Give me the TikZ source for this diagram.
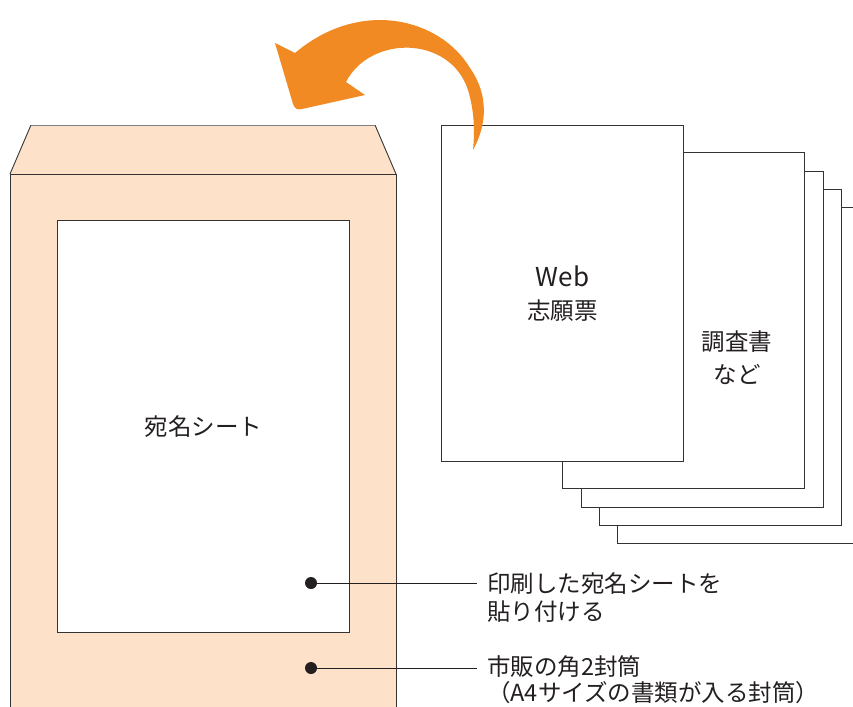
\documentclass[tikz,border=0pt]{standalone}
\usepackage{fontspec}
\setmainfont{Noto Sans CJK JP}
\definecolor{env}{HTML}{FDE1C9}
\definecolor{orng}{HTML}{F28A24}
\definecolor{ln}{HTML}{333333}
\definecolor{txt}{HTML}{231F20}
\begin{document}
\begin{tikzpicture}[x=1pt,y=-1pt,
  paper/.style={draw=ln, line width=0.9pt, fill=white, inner sep=0pt,
    minimum width=242pt, minimum height=336pt, anchor=north west},
  lbl/.style={font=\fontsize{23.5}{28}\selectfont, text=txt, inner sep=0pt},
  dotnode/.style={circle, fill=txt, minimum size=12pt, inner sep=0pt},
  leader/.style={draw=txt, line width=0.8pt, shorten >=10pt}]
\useasboundingbox (0,0) rectangle (853,706);
\clip (0,0) rectangle (853,706);
% envelope
\fill[env] (31,125) -- (375,125) -- (396,174) -- (10,174) -- cycle;
\draw[ln, line width=0.9pt] (10,174) -- (31,125);
\draw[ln, line width=0.9pt] (375,125) -- (396,174);
\draw[gray, line width=0.9pt] (31,125) -- (375,125);
\draw[ln, line width=0.9pt, fill=env] (10,174) rectangle (396,720);
\node[draw=ln, line width=0.9pt, fill=white, anchor=north west, inner sep=0pt,
  minimum width=292pt, minimum height=412pt, lbl] (sheet) at (57,220) {宛名シート};
% papers
\node[paper] (p5) at (617,207) {};
\node[paper] (p4) at (599,189) {};
\node[paper] (p3) at (581,171) {};
\node[paper] (p2) at (562,152) {};
\node[paper, lbl, align=center, font=\fontsize{23.5}{33}\selectfont] (p1) at (441,125) {{\fontsize{26}{33}\selectfont Web}\\志願票};
\node[lbl, align=center, font=\fontsize{23.5}{33}\selectfont] (t2) at (737,358) {調査書\\など};
% labels
\node[dotnode] (d1) at (311,583) {};
\node[dotnode] (d2) at (311,668) {};
\node[lbl, align=left, anchor=north west] (l1) at (487,572) {印刷した宛名シートを\\貼り付ける};
\node[lbl, align=left, anchor=north west, font=\fontsize{23.5}{26.5}\selectfont] (l2) at (487,655) {市販の角2封筒\\（A4サイズの書類が入る封筒）};
\draw[leader] (d1.center) -- (d1 -| l1.west);
\draw[leader] (d2.center) -- (d2 -| l2.west);
% orange arrow
\fill[orng] (473,150) .. controls (487,125) and (489,95) .. (470,68)
  .. controls (440,18) and (360,-2) .. (295,53)
  -- (275,43) -- (293,104) .. controls (295,109) and (297,110) .. (302,109)
  -- (365,95) -- (346,82)
  .. controls (370,35) and (450,35) .. (468,90)
  .. controls (474,110) and (475,130) .. (473,150) -- cycle;
\end{tikzpicture}
\end{document}
